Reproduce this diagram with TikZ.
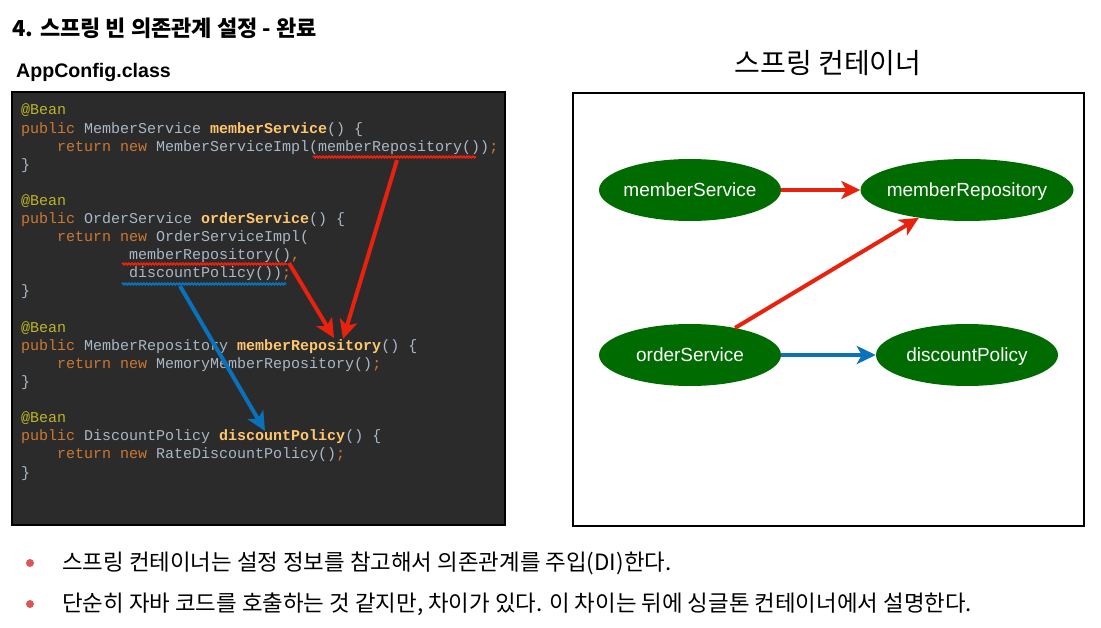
\documentclass[tikz,border=0pt]{standalone}
\usepackage{fontspec}
\setmainfont{Liberation Sans}
\newfontfamily\kr{Noto Sans CJK KR}
\newfontfamily\codefont{Liberation Mono}
\usetikzlibrary{positioning,shapes.geometric,arrows.meta,decorations.pathmorphing}

\definecolor{codebg}{HTML}{2B2B2B}
\definecolor{codetxt}{HTML}{A9B7C6}
\definecolor{kwcol}{HTML}{CC7832}
\definecolor{ancol}{HTML}{BBB529}
\definecolor{fncol}{HTML}{FFC66D}
\definecolor{depred}{HTML}{E8220F}
\definecolor{depblue}{HTML}{0A72BA}
\definecolor{beangreen}{HTML}{006B00}
\definecolor{dotred}{HTML}{DF5555}

\newcommand{\kw}[1]{\textcolor{kwcol}{#1}}
\newcommand{\an}[1]{\textcolor{ancol}{#1}}
\newcommand{\fn}[1]{\textcolor{fncol}{\bfseries #1}}
% keep the ellipse size independent of the label width
\newcommand{\beanlabel}[1]{\makebox[100pt]{#1}}

\tikzset{
  codeline/.style={anchor=base west, inner sep=0pt, text=codetxt,
    font=\codefont\fontsize{15}{18}\selectfont},
  bean/.style={ellipse, fill=beangreen, text=white, inner sep=0pt,
    text height=16pt, text depth=3pt,
    minimum height=62pt, minimum width=182pt, font=\fontsize{19}{22}\selectfont},
  dep/.style={line width=4pt, -{Stealth[length=19pt,width=18pt,inset=5pt]}},
  squiggle/.style={line width=1.8pt, decorate,
    decoration={snake, amplitude=0.7pt, segment length=3pt}},
  bullettext/.style={anchor=west, inner sep=0pt, font=\kr\fontsize{22.4}{26}\selectfont}
}

\begin{document}
\begin{tikzpicture}[x=1pt, y=-1pt]
  \useasboundingbox (0,0) rectangle (1101,628);

  % ============ HEADINGS ============
  \node[anchor=west, inner sep=0pt, font=\kr\bfseries\fontsize{22}{26}\selectfont]
    (title) at (12,28) {4. 스프링 빈 의존관계 설정 - 완료};
  \node[anchor=west, inner sep=0pt, font=\bfseries\fontsize{19.6}{23}\selectfont]
    (cfgname) at (16,72) {AppConfig.class};
  \node[font=\kr\fontsize{28}{32}\selectfont] (ctitle) at (828,63) {스프링 컨테이너};

  % ============ LEFT PANEL: APPCONFIG CODE ============
  \draw[line width=2pt, fill=codebg] (12,92) rectangle (505,525);
  % baselines step 18.1, one char = 9
  \node[codeline] (l1)  at (21,115)   {\an{@Bean}};
  \node[codeline] (l2)  at (21,133.1) {\kw{public} MemberService \fn{memberService}() \{};
  \node[codeline] (l3)  at (57,151.2) {\kw{return new} MemberServiceImpl(memberRepository())\kw{;}};
  \node[codeline] (l4)  at (21,169.3) {\}};
  \node[codeline] (l6)  at (21,205.5) {\an{@Bean}};
  \node[codeline] (l7)  at (21,223.6) {\kw{public} OrderService \fn{orderService}() \{};
  \node[codeline] (l8)  at (57,241.7) {\kw{return new} OrderServiceImpl(};
  \node[codeline] (l9)  at (129,259.8) {memberRepository()\kw{,}};
  \node[codeline] (l10) at (129,277.9) {discountPolicy())\kw{;}};
  \node[codeline] (l11) at (21,296)   {\}};
  \node[codeline] (l13) at (21,332.2) {\an{@Bean}};
  \node[codeline] (l14) at (21,350.3) {\kw{public} MemberRepository \fn{memberRepository}() \{};
  \node[codeline] (l15) at (57,368.4) {\kw{return new} MemoryMemberRepository()\kw{;}};
  \node[codeline] (l16) at (21,386.5) {\}};
  \node[codeline] (l18) at (21,422.7) {\an{@Bean}};
  \node[codeline] (l19) at (21,440.8) {\kw{public} DiscountPolicy \fn{discountPolicy}() \{};
  \node[codeline] (l20) at (57,458.9) {\kw{return new} RateDiscountPolicy()\kw{;}};
  \node[codeline] (l21) at (21,477)   {\}};

  % underlined calls
  \draw[squiggle, depred]  (313,157) -- (476,157);
  \draw[squiggle, depred]  (122,264) -- (287,264);
  \draw[squiggle, depblue] (122,284) -- (286,284);

  % call sites and bean definitions
  \coordinate (msCall)     at (397,160);
  \coordinate (osRepoCall) at (289,263);
  \coordinate (osPolCall)  at (180,286);
  \coordinate (repoDefA)   at (343,339);
  \coordinate (repoDefB)   at (334,338);
  \coordinate (polDef)     at (265,431);

  \draw[dep, depred]  (msCall) -- (repoDefA);
  \draw[dep, depred]  (osRepoCall) -- (repoDefB);
  \draw[dep, depblue] (osPolCall) -- (polDef);

  % ============ RIGHT PANEL: SPRING CONTAINER ============
  \draw[line width=2.5pt] (573,93) rectangle (1084,526);
  \node[bean] (ms) at (690,190) {\beanlabel{memberService}};
  \node[bean, minimum width=213pt] (mr) at (967,190) {\beanlabel{memberRepository}};
  \node[bean] (os) at (690,355) {\beanlabel{orderService}};
  \node[bean] (dp) at (967,355) {\beanlabel{discountPolicy}};

  \draw[dep, depred]  (ms) -- (mr);
  \draw[dep, depred]  (os.31) -- (mr.210);
  \draw[dep, depblue] (os) -- (dp);

  % ============ NOTES ============
  \node[circle, fill=dotred, inner sep=0pt, minimum size=8pt] (dot1) at (30,563) {};
  \node[circle, fill=dotred, inner sep=0pt, minimum size=8pt] (dot2) at (30,604) {};
  \node[bullettext] (note1) at (62,563) {스프링 컨테이너는 설정 정보를 참고해서 의존관계를 주입(DI)한다.};
  \node[bullettext] (note2) at (62,604) {단순히 자바 코드를 호출하는 것 같지만, 차이가 있다. 이 차이는 뒤에 싱글톤 컨테이너에서 설명한다.};
\end{tikzpicture}
\end{document}
